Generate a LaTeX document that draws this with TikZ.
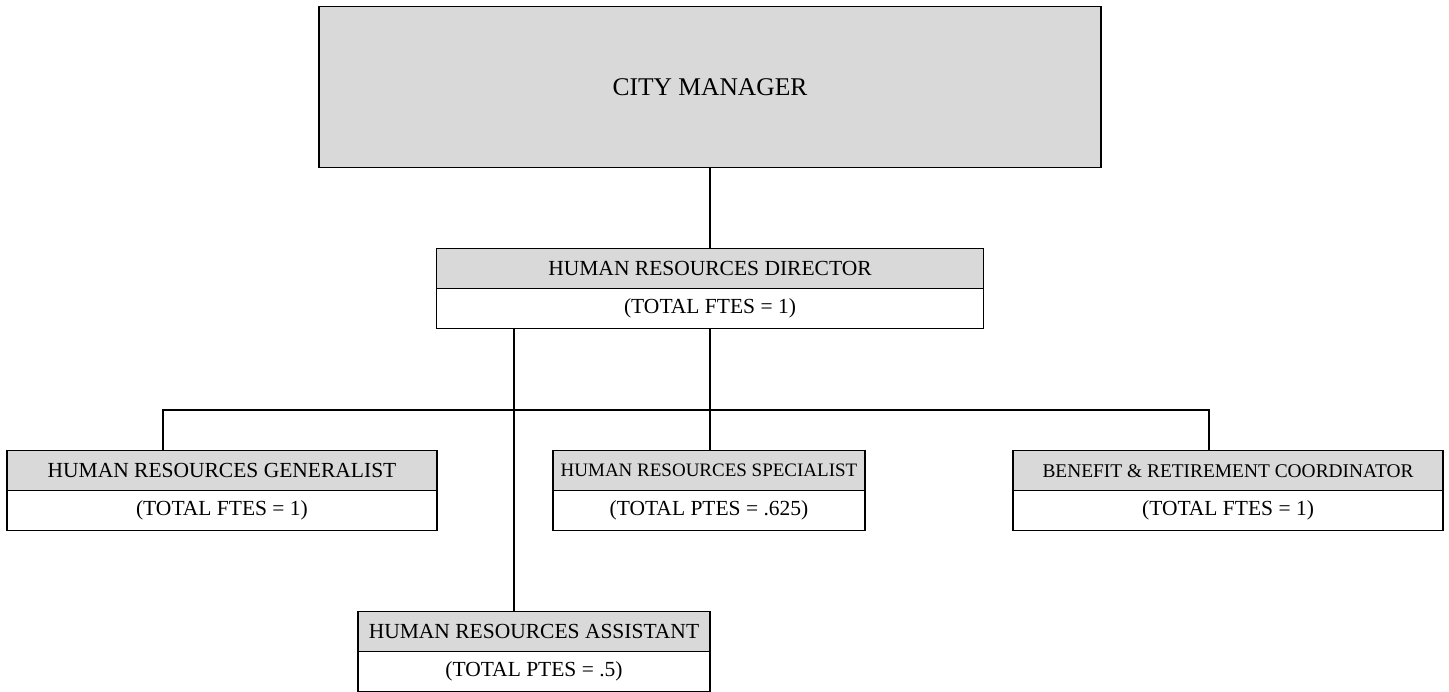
\documentclass[tikz,border=0pt]{standalone}
\usepackage{fontspec}
\setmainfont{Liberation Serif}
\definecolor{boxgray}{HTML}{D9D9D9}
\tikzset{
  title/.style={draw=black, line width=1.3pt, fill=boxgray, inner sep=0pt, minimum height=40pt,
    font=\fontsize{21.5}{25}\selectfont},
  count/.style={draw=black, line width=1.3pt, fill=white, inner sep=0pt, minimum height=40pt,
    font=\fontsize{21.5}{25}\selectfont},
  conn/.style={draw=black, line width=1.3pt},
}
\begin{document}
\begin{tikzpicture}[x=1pt,y=-1pt]
\useasboundingbox (0,0) rectangle (1449,692);
% City manager
\node[draw=black, line width=1.3pt, fill=boxgray, inner sep=0pt, minimum width=782pt, minimum height=161pt,
  font=\fontsize{25.5}{30}\selectfont] (cm) at (710,87) {CITY MANAGER};
% Director
\node[title, minimum width=547pt] (dirt) at (710,268.5) {HUMAN RESOURCES DIRECTOR};
\node[count, minimum width=547pt] (dirc) at (710,308.5) {(TOTAL FTES = 1)};
% Generalist
\node[title, minimum width=430pt] (gent) at (222,470.7) {HUMAN RESOURCES GENERALIST};
\node[count, minimum width=430pt] (genc) at (222,510.7) {(TOTAL FTES = 1)};
% Specialist
\node[title, minimum width=312pt, font=\fontsize{19}{23}\selectfont] (spect) at (709,470.7) {HUMAN RESOURCES SPECIALIST};
\node[count, minimum width=312pt] (specc) at (709,510.7) {(TOTAL PTES = .625)};
% Benefit
\node[title, minimum width=430pt, font=\fontsize{19.4}{23}\selectfont] (bent) at (1228,470.7) {BENEFIT \& RETIREMENT COORDINATOR};
\node[count, minimum width=430pt] (benc) at (1228,510.7) {(TOTAL FTES = 1)};
% Assistant
\node[title, minimum width=352pt] (asst) at (534,631.7) {HUMAN RESOURCES ASSISTANT};
\node[count, minimum width=352pt] (assc) at (534,671.7) {(TOTAL PTES = .5)};
% helper coordinates
\coordinate (asl) at (514,410);
\coordinate (gl) at (163,410);
\coordinate (bl) at (1209,410);
\coordinate (ml) at (710,410);
% connectors
\draw[conn] (cm.south) -- (dirt.north);
\draw[conn] (dirc.south -| asl) -- (asst.north -| asl);
\draw[conn] (dirc.south -| ml) -- (spect.north -| ml);
\draw[conn] (gent.north -| gl) -- (gl) -- (bl) -- (bent.north -| bl);
\end{tikzpicture}
\end{document}
